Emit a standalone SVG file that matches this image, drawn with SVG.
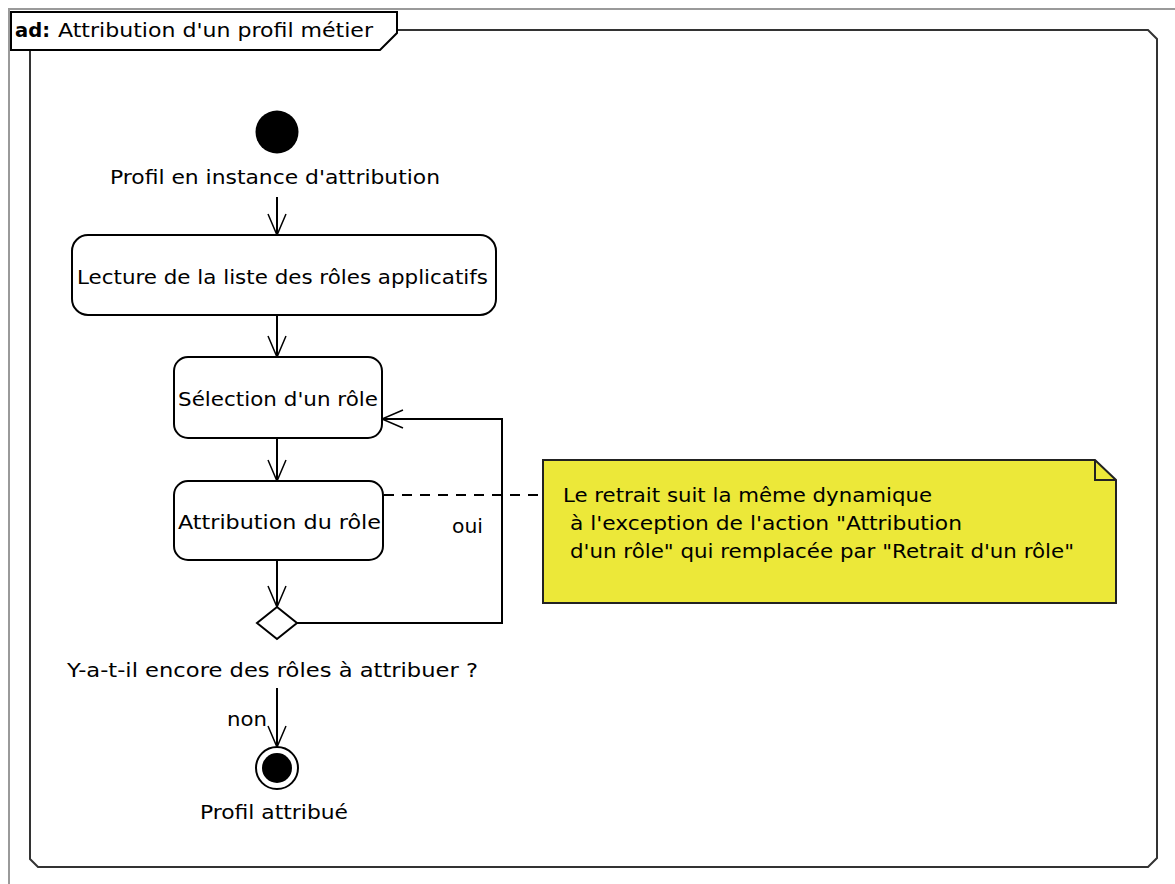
<svg xmlns="http://www.w3.org/2000/svg" width="1175" height="884" viewBox="0 0 1175 884">
<defs>
<marker id="open" markerUnits="userSpaceOnUse" markerWidth="30" markerHeight="30" viewBox="-25 -15 30 30" refX="0" refY="0" orient="auto">
<path d="M-21,-9 L0,0 L-21,9" fill="none" stroke="#000" stroke-width="1.5"/>
</marker>
</defs>
<style>
text{font-family:"DejaVu Sans","Liberation Sans",sans-serif;font-size:19px;fill:#000;}
.action{fill:#fff;stroke:#000;stroke-width:2;}
.edge{fill:none;stroke:#000;stroke-width:2;marker-end:url(#open);}
</style>
<rect width="1175" height="884" fill="#fff"/>
<path d="M9,884 L9,9 L1175,9" fill="none" stroke="#9a9a9a" stroke-width="2"/>
<g id="frame">
<path d="M397,30 L1148,30 L1157,39 L1157,858 L1148,867 L38,867 L30,859 L30,50" fill="none" stroke="#333" stroke-width="2"/>
<path d="M11,12 L397,12 L397,33 L380,50 L11,50 Z" fill="#fff" stroke="#000" stroke-width="2"/>
<text x="15" y="37"><tspan font-weight="bold" textLength="35" lengthAdjust="spacingAndGlyphs">ad:</tspan><tspan x="58" textLength="315" lengthAdjust="spacingAndGlyphs">Attribution d'un profil métier</tspan></text>
</g>
<g id="connectors">
<path class="edge" d="M277,197 L277,235"/>
<path class="edge" d="M277,315 L277,357"/>
<path class="edge" d="M277,438 L277,481"/>
<path class="edge" d="M277,560 L277,607"/>
<path class="edge" d="M297,623 L502,623 L502,419 L382,419"/>
<path class="edge" d="M277,688 L277,747"/>
<path d="M384,495 L543,495" fill="none" stroke="#000" stroke-width="2" stroke-dasharray="10,8"/>
<text x="452" y="533" textLength="31" lengthAdjust="spacingAndGlyphs">oui</text>
<text x="227" y="726" textLength="40" lengthAdjust="spacingAndGlyphs">non</text>
</g>
<g id="start">
<circle cx="277" cy="132" r="21.5" fill="#000"/>
<text x="110" y="184" textLength="330" lengthAdjust="spacingAndGlyphs">Profil en instance d'attribution</text>
</g>
<g id="lecture">
<rect class="action" x="72" y="235" width="424" height="80" rx="16"/>
<text x="77" y="284" textLength="411" lengthAdjust="spacingAndGlyphs">Lecture de la liste des rôles applicatifs</text>
</g>
<g id="selection">
<rect class="action" x="174" y="357" width="208" height="81" rx="14"/>
<text x="178" y="406" textLength="200" lengthAdjust="spacingAndGlyphs">Sélection d'un rôle</text>
</g>
<g id="attribution">
<rect class="action" x="174" y="481" width="209" height="79" rx="14"/>
<text x="178" y="529" textLength="203" lengthAdjust="spacingAndGlyphs">Attribution du rôle</text>
</g>
<g id="decision">
<path d="M277,607 L297,623 L277,639 L257,623 Z" fill="#fff" stroke="#000" stroke-width="2"/>
<text x="67" y="677" textLength="411" lengthAdjust="spacingAndGlyphs">Y-a-t-il encore des rôles à attribuer ?</text>
</g>
<g id="end">
<circle cx="277" cy="768" r="21" fill="#fff" stroke="#000" stroke-width="2"/>
<circle cx="277" cy="768" r="15" fill="#000"/>
<text x="200" y="819" textLength="148" lengthAdjust="spacingAndGlyphs">Profil attribué</text>
</g>
<g id="note">
<path d="M543,460 L1095,460 L1116,480 L1116,603 L543,603 Z" fill="#ece839" stroke="#222" stroke-width="2"/>
<path d="M1095,460 L1095,480 L1116,480" fill="none" stroke="#222" stroke-width="2"/>
<text x="563" y="502" textLength="369" lengthAdjust="spacingAndGlyphs">Le retrait suit la même dynamique</text>
<text x="570" y="530" textLength="392" lengthAdjust="spacingAndGlyphs">à l'exception de l'action "Attribution</text>
<text x="570" y="558" textLength="504" lengthAdjust="spacingAndGlyphs">d'un rôle" qui remplacée par "Retrait d'un rôle"</text>
</g>
</svg>
